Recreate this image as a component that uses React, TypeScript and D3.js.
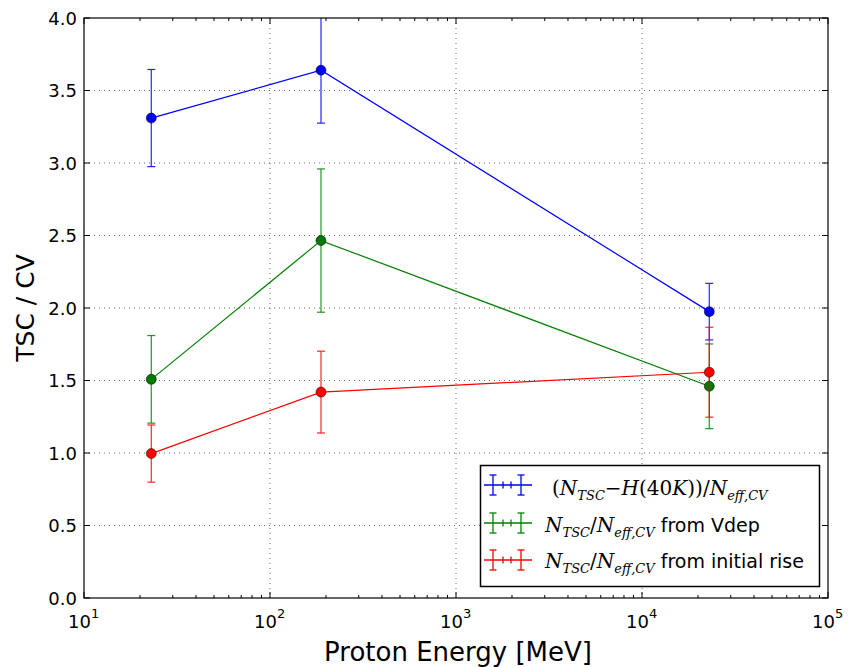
import React from "react";
import * as d3 from "d3";

const energies = [23, 188, 23000];
const blueVals = [3.31, 3.64, 1.975];
const blueErr = [0.335, 0.365, 0.195];
const greenVals = [1.508, 2.465, 1.46];
const greenErr = [0.302, 0.494, 0.292];
const redVals = [0.996, 1.42, 1.557];
const redErr = [0.197, 0.282, 0.31];
const yTicks = [0, 0.5, 1, 1.5, 2, 2.5, 3, 3.5, 4];
const xTickExps = [1, 2, 3, 4, 5];

const W = 848, H = 667;
const L = 84, R = 828, T = 18, B = 598;

const series = [
  { color: "#0000ff", marker: "#0000ff", vals: blueVals, err: blueErr },
  { color: "#008000", marker: "#007a00", vals: greenVals, err: greenErr },
  { color: "#ff0000", marker: "#ff0000", vals: redVals, err: redErr },
];

export default function App() {
  const x = d3.scaleLog().domain([10, 1e5]).range([L, R]);
  const y = d3.scaleLinear().domain([0, 4]).range([B, T]);
  const minor: number[] = [];
  for (let e = 1; e < 5; e++) for (let k = 2; k <= 9; k++) minor.push(k * Math.pow(10, e));
  const line = d3.line<number>().x((_, i) => x(energies[i])).y((d) => y(d));
  const font = "'DejaVu Sans', sans-serif";
  const mfont = "'DejaVu Serif', serif";
  const legendRows = [
    { cy: 485, ty: 495 },
    { cy: 523, ty: 532 },
    { cy: 560, ty: 568 },
  ];
  const handle = (cy: number, color: string) => (
    <g stroke={color} strokeWidth={1.3} fill="none">
      <line x1={484} x2={532} y1={cy} y2={cy} />
      {[493, 521].map((hx) => (
        <g key={hx}>
          <line x1={hx} x2={hx} y1={cy - 10} y2={cy + 10} />
          <line x1={hx - 3.5} x2={hx + 3.5} y1={cy - 10} y2={cy - 10} />
          <line x1={hx - 3.5} x2={hx + 3.5} y1={cy + 10} y2={cy + 10} />
        </g>
      ))}
      {[503, 511].map((hx) => (
        <line key={hx} x1={hx} x2={hx} y1={cy - 3.5} y2={cy + 3.5} />
      ))}
    </g>
  );
  const sub = (t: string) => (
    <tspan fontSize={13} dy={5} fontStyle="italic">{t}</tspan>
  );
  return (
    <svg width={W} height={H} style={{ position: "absolute", left: 0, top: 0, background: "#fff" }}>
      <defs>
        <clipPath id="plot">
          <rect x={L} y={T} width={R - L} height={B - T} />
        </clipPath>
      </defs>
      <rect x={0} y={0} width={W} height={H} fill="#fff" />
      {/* grid */}
      <g stroke="#000" strokeWidth={0.8} strokeDasharray="1,4" opacity={0.75}>
        {xTickExps.slice(1, -1).map((e) => (
          <line key={e} x1={x(Math.pow(10, e))} x2={x(Math.pow(10, e))} y1={T} y2={B} />
        ))}
        {yTicks.slice(1, -1).map((v) => (
          <line key={v} x1={L} x2={R} y1={y(v)} y2={y(v)} />
        ))}
      </g>
      {/* ticks */}
      <g stroke="#000" strokeWidth={1}>
        {xTickExps.map((e) => {
          const px = x(Math.pow(10, e));
          return (
            <g key={e}>
              <line x1={px} x2={px} y1={B} y2={B - 6} />
              <line x1={px} x2={px} y1={T} y2={T + 6} />
            </g>
          );
        })}
        {minor.map((m) => {
          const px = x(m);
          return (
            <g key={m}>
              <line x1={px} x2={px} y1={B} y2={B - 3} />
              <line x1={px} x2={px} y1={T} y2={T + 3} />
            </g>
          );
        })}
        {yTicks.map((v) => (
          <g key={v}>
            <line x1={L} x2={L + 6} y1={y(v)} y2={y(v)} />
            <line x1={R} x2={R - 6} y1={y(v)} y2={y(v)} />
          </g>
        ))}
      </g>
      {/* data */}
      <g clipPath="url(#plot)">
        {series.map((s, si) => (
          <g key={si}>
            <path d={line(s.vals) || ""} fill="none" stroke={s.color} strokeWidth={1.2} />
            {s.vals.map((v, i) => {
              const px = x(energies[i]);
              const y1 = y(v + s.err[i]);
              const y2 = y(v - s.err[i]);
              return (
                <g key={i} stroke={s.color} strokeWidth={1.2} opacity={0.85}>
                  <line x1={px} x2={px} y1={y1} y2={y2} />
                  <line x1={px - 4} x2={px + 4} y1={y1} y2={y1} />
                  <line x1={px - 4} x2={px + 4} y1={y2} y2={y2} />
                </g>
              );
            })}
            {s.vals.map((v, i) => (
              <circle key={"m" + i} cx={x(energies[i])} cy={y(v)} r={5} fill={s.marker} stroke="#000" strokeWidth={0.5} />
            ))}
          </g>
        ))}
      </g>
      {/* frame */}
      <rect x={L} y={T} width={R - L} height={B - T} fill="none" stroke="#000" strokeWidth={1.2} />
      {/* y tick labels */}
      <g fontFamily={font} fontSize={18} fill="#000" textAnchor="end">
        {yTicks.map((v) => (
          <text key={v} x={L - 7} y={y(v) + 6.5}>{v.toFixed(1)}</text>
        ))}
      </g>
      {/* x tick labels */}
      <g fontFamily={font} fontSize={18} fill="#000">
        {xTickExps.map((e) => (
          <text key={e} x={x(Math.pow(10, e)) - 16} y={628}>
            10<tspan fontSize={13} dy={-10}>{e}</tspan>
          </text>
        ))}
      </g>
      {/* axis labels */}
      <text x={(L + R) / 2 + 2} y={661} fontFamily={font} fontSize={26} textAnchor="middle">Proton Energy [MeV]</text>
      <text transform={`translate(34,${(T + B) / 2}) rotate(-90)`} fontFamily={font} fontSize={25} textAnchor="middle">TSC / CV</text>
      {/* legend */}
      <rect x={480.5} y={465.5} width={339} height={121} fill="#fff" stroke="#000" strokeWidth={1.5} />
      {series.map((s, i) => (
        <g key={"lg" + i}>{handle(legendRows[i].cy, s.color)}</g>
      ))}
      <text x={552} y={legendRows[0].ty} fontFamily={mfont} fontSize={20} fill="#000">
        (<tspan fontStyle="italic">N</tspan>{sub("TSC")}<tspan dy={-5}>−</tspan><tspan fontStyle="italic">H</tspan>(40<tspan fontStyle="italic">K</tspan>))/<tspan fontStyle="italic">N</tspan>{sub("eff,CV")}
      </text>
      {[1, 2].map((i) => (
        <text key={"t" + i} x={545} y={legendRows[i].ty} fontFamily={mfont} fontSize={20} fill="#000">
          <tspan fontStyle="italic">N</tspan>{sub("TSC")}<tspan dy={-5}>/</tspan><tspan fontStyle="italic">N</tspan>{sub("eff,CV")}
          <tspan dy={-5} fontFamily={font} fontSize={19}>{i === 1 ? " from Vdep" : " from initial rise"}</tspan>
        </text>
      ))}
    </svg>
  );
}
